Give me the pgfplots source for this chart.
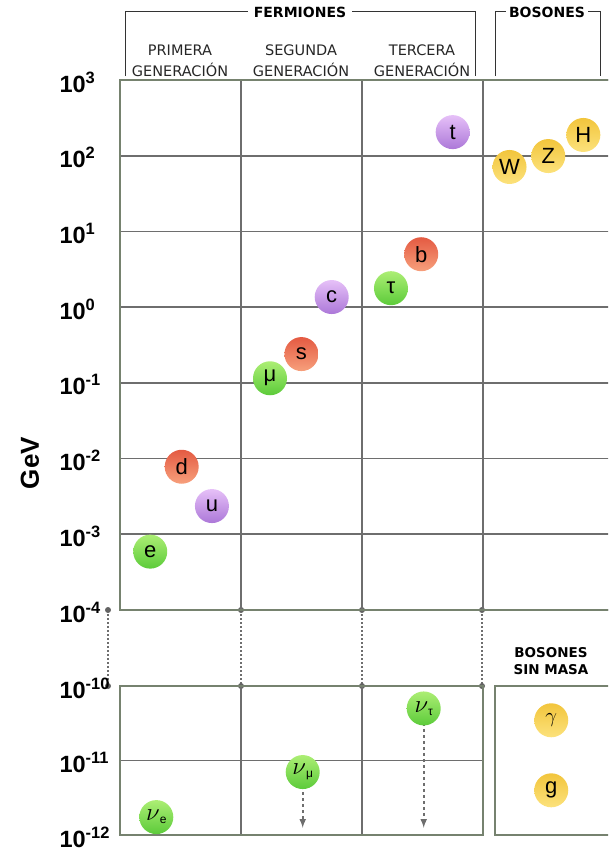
\documentclass[border=0pt]{standalone}
\usepackage{pgfplots}
\pgfplotsset{compat=1.18}
\usepackage{fontspec}
\setmainfont{Liberation Sans}
\newfontfamily\dsans{DejaVu Sans}

\definecolor{gridgray}{HTML}{6E6E6E}
\definecolor{framecol}{HTML}{76826F}
\definecolor{grtop}{HTML}{ACEE74}\definecolor{grbot}{HTML}{5CCB3A}
\definecolor{rdtop}{HTML}{E45A42}\definecolor{rdbot}{HTML}{F7A07C}
\definecolor{putop}{HTML}{E6C0F8}\definecolor{pubot}{HTML}{AC78D8}
\definecolor{yetop}{HTML}{F2C53C}\definecolor{yebot}{HTML}{FCE27C}

\newcommand\nuu[1]{{\fontsize{27}{27}\selectfont$\nu$}\raisebox{-3pt}{\fontsize{12}{12}\selectfont #1}}

\pgfplotsset{
  ball/.style 2 args={only marks, mark=none, point meta=explicit symbolic,
    nodes near coords, nodes near coords align=center,
    every node near coord/.style={anchor=center, circle, inner sep=0pt,
      minimum size=34pt, top color=#1, bottom color=#2, text=black,
      font=\fontsize{22}{22}\selectfont}},
  base/.style={scale only axis, anchor=north west, clip=false,
    axis line style={draw=none}, tick style={draw=none},
    grid=major, major grid style={line width=1.8pt, color=gridgray},
    yticklabel style={font=\bfseries\fontsize{23.5}{23.5}\selectfont, anchor=west, xshift=-64pt, yshift=-2pt},
    xticklabels={}},
}

\begin{document}
\begin{tikzpicture}[x=1pt,y=1pt]
\useasboundingbox (0,0) rectangle (608,-851);
\clip (0,0) rectangle (608,-851);

% headers
\draw[line width=1pt, black!80] (125,-76) -- (125,-12) -- (475,-12) -- (475,-76);
\draw[line width=1pt, black!80] (495,-76) -- (495,-12) -- (600,-12) -- (600,-76);
\node[fill=white, inner xsep=6pt, font=\dsans\bfseries\fontsize{14}{14}\selectfont] at (300,-12) {FERMIONES};
\node[fill=white, inner xsep=3pt, font=\dsans\bfseries\fontsize{14}{14}\selectfont] at (547,-12) {BOSONES};
\foreach \x/\a in {180/PRIMERA,301/SEGUNDA,422/TERCERA}{
  \node[font=\dsans\fontsize{14.5}{14.5}\selectfont, text=black!85] at (\x,-50) {\a};
  \node[font=\dsans\fontsize{14.5}{14.5}\selectfont, text=black!85] at (\x,-70) {GENERACIÓN};
}
\node[align=center, font=\dsans\bfseries\fontsize{13.5}{17}\selectfont] at (551,-661) {BOSONES\\SIN MASA};
\node[rotate=90, font=\bfseries\fontsize{26}{26}\selectfont] at (30,-463) {GeV};

% dotted connectors
\foreach \x in {108,241,362,482}{
  \draw[gridgray, line width=2pt, dotted] (\x,-610) -- (\x,-686);
  \fill[gridgray!90!black] (\x,-610) circle (3);
  \fill[gridgray!90!black] (\x,-686) circle (3);
}

% upper axis
\begin{axis}[base, at={(120pt,-80pt)}, width=496pt, height=530pt,
  xmin=0, xmax=4.1, ymode=log, ymin=1e-4, ymax=1e3,
  xtick={1,2,3},
  ytick={1e-4,1e-3,1e-2,1e-1,1,1e1,1e2,1e3},
  yticklabels={10\textsuperscript{-4},10\textsuperscript{-3},10\textsuperscript{-2},10\textsuperscript{-1},
    10\textsuperscript{0},10\textsuperscript{1},10\textsuperscript{2},10\textsuperscript{3}}]
\draw[framecol, line width=2pt] (rel axis cs:1.05,1) -- (rel axis cs:0,1) -- (rel axis cs:0,0) -- (rel axis cs:1.05,0);
\addplot[ball={grtop}{grbot}] coordinates {(0.25,5.9e-4) [e] (1.24,0.115) [μ] (2.24,1.78) [τ]};
\addplot[ball={rdtop}{rdbot}] coordinates {(0.51,7.8e-3) [d] (1.50,0.24) [s] (2.49,5.0) [b]};
\addplot[ball={putop}{pubot}] coordinates {(0.76,2.36e-3) [u] (1.75,1.36) [c] (2.75,205) [t]};
\addplot[ball={yetop}{yebot}] coordinates {(3.22,71) [W] (3.54,99) [Z] (3.83,188) [H]};
\end{axis}

% lower axis
\begin{axis}[base, at={(120pt,-686pt)}, width=363pt, height=149pt,
  xmin=0, xmax=3, ymode=log, ymin=1e-12, ymax=1e-10,
  xtick={1,2},
  ytick={1e-12,1e-11,1e-10},
  yticklabels={10\textsuperscript{-12},10\textsuperscript{-11},10\textsuperscript{-10}}]
\draw[framecol, line width=2pt] (rel axis cs:0,0) rectangle (rel axis cs:1,1);
\addplot[gridgray, line width=2pt, dashed, -latex] coordinates {(1.51,4.5e-12) (1.51,1.25e-12)};
\addplot[gridgray, line width=2pt, dashed, -latex] coordinates {(2.51,3.2e-11) (2.51,1.25e-12)};
\addplot[ball={grtop}{grbot}] coordinates {(0.30,1.74e-12) [\nuu{e}] (1.51,7.0e-12) [\nuu{μ}] (2.51,5.0e-11) [\nuu{τ}]};
\end{axis}

% massless bosons
\begin{axis}[scale only axis, anchor=north west, clip=false, at={(495pt,-686pt)},
  width=125pt, height=149pt, xmin=0, xmax=1, ymin=0, ymax=1,
  axis line style={framecol, line width=2pt}, ticks=none]
\addplot[ball={yetop}{yebot}] coordinates {(0.45,0.77) [$\gamma$] (0.45,0.30) [g]};
\end{axis}
\end{tikzpicture}
\end{document}
